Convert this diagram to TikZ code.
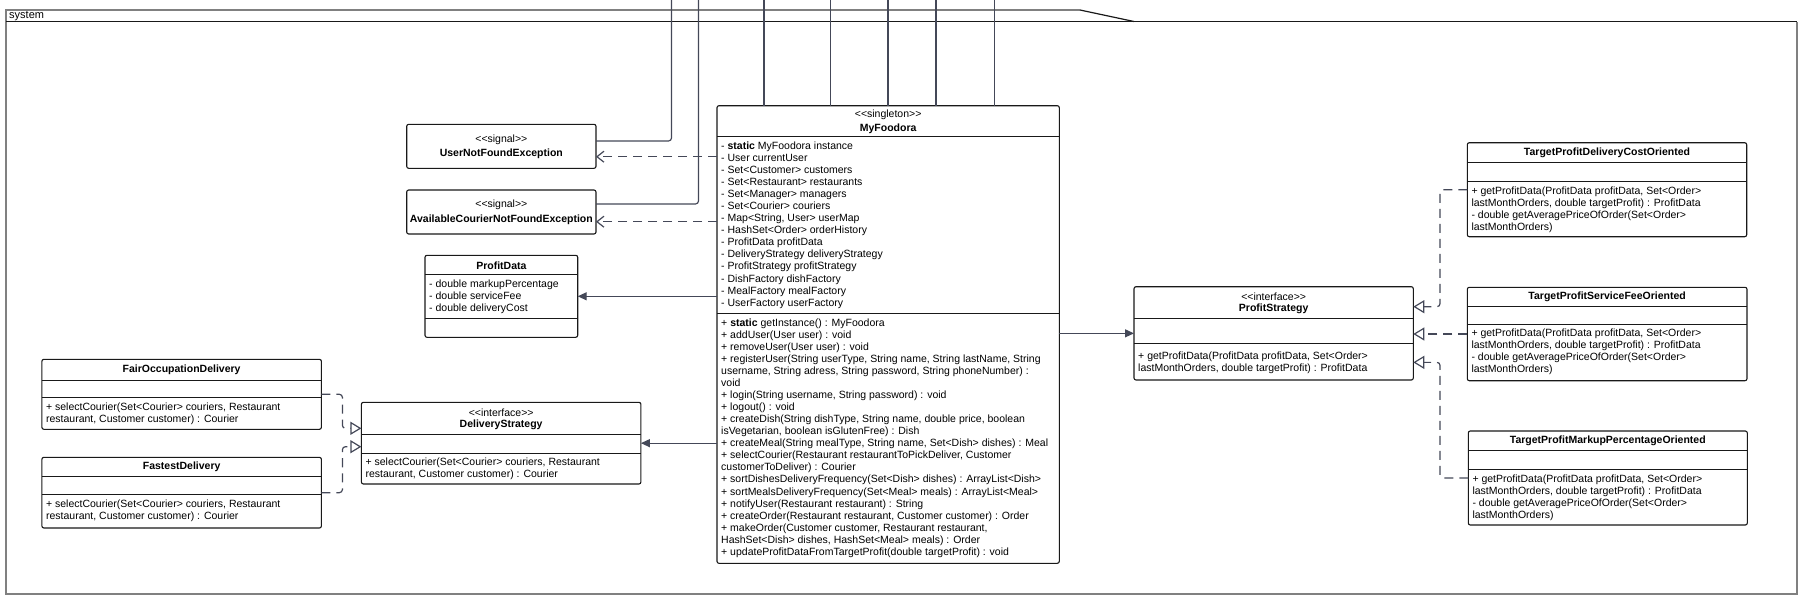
\documentclass[tikz,border=0pt]{standalone}
\usepackage{fontspec}
\setmainfont{Liberation Sans}
\usepackage{tikz}
\usetikzlibrary{arrows.meta,positioning,calc}
\definecolor{boxln}{RGB}{25,25,25}
\definecolor{linkc}{RGB}{68,72,88}
\definecolor{pkgc}{RGB}{128,128,128}
\newcommand{\umlfont}{\fontsize{10.5}{12.07}\selectfont}
\newcommand{\stlt}{<\kern0pt<}
\newcommand{\stgt}{>\kern0pt>}

\begin{document}
\begin{tikzpicture}[x=1pt, y=-1pt, font=\umlfont,
  cls/.style={rectangle, rounded corners=2pt, draw=boxln, line width=1.1pt, fill=white,
              inner sep=0pt, outer sep=0pt, anchor=north west},
  sepln/.style={draw=boxln, line width=1pt},
  stereo/.style={inner sep=0pt, font=\umlfont},
  ttl/.style={inner sep=0pt, font=\umlfont\bfseries},
  mem/.style={inner sep=0pt, align=left, anchor=west, font=\umlfont},
  conn/.style={draw=linkc, line width=1.2pt, rounded corners=3pt},
  dep/.style={conn, dash pattern=on 9pt off 6pt, -{Straight Barb[length=7pt, width=11pt]}},
  real/.style={conn, dash pattern=on 9pt off 6pt, -{Triangle[open, length=11pt, width=13pt]}},
  assoc/.style={conn, -{Triangle[length=9pt, width=8pt]}}]
  \useasboundingbox (0,0) rectangle (1816,603);

  % package frame
  \draw[pkgc, line width=2pt] (1080,10) -- (6,10) -- (6,594) -- (1797,594) -- (1797,21.5);
  \draw[boxln, line width=1.2pt] (1080,10) -- (1134,21.5);
  \draw[boxln, line width=1.2pt] (6,21.5) -- (1797,21.5);
  \node[anchor=west, inner sep=0pt, font=\fontsize{11}{12}\selectfont] (pkglbl) at (9,16) {system};

  % signals
  \node[cls, minimum width=189.3pt, minimum height=44pt] (unf) at (406.7,124.3) {};
  \node[stereo] (unf-s) at ([yshift=-15.7pt]unf.north) {\stlt signal\stgt};
  \node[ttl] (unf-t) at ([yshift=-29pt]unf.north) {UserNotFoundException};
  \node[cls, minimum width=189.3pt, minimum height=44pt] (acnf) at (406.7,190) {};
  \node[stereo] (acnf-s) at ([yshift=-15pt]acnf.north) {\stlt signal\stgt};
  \node[ttl] (acnf-t) at ([yshift=-29.3pt]acnf.north) {AvailableCourierNotFoundException};

  % profit data
  \node[cls, minimum width=152.7pt, minimum height=82pt] (pd) at (425,255.3) {};
  \node[ttl] (pd-t) at ([yshift=-10.4pt]pd.north) {ProfitData};
  \draw[sepln] ([yshift=-19pt]pd.north west) -- ([yshift=-19pt]pd.north east);
  \draw[sepln] ([yshift=-63pt]pd.north west) -- ([yshift=-63pt]pd.north east);
  \node[mem] (pd-a) at ([xshift=4pt, yshift=-41.7pt]pd.north west)
    {- double markupPercentage\\ - double serviceFee\\ - double deliveryCost};

  % main singleton
  \node[cls, minimum width=342.3pt, minimum height=457.6pt] (mf) at (717,105.7) {};
  \node[stereo] (mf-s) at ([yshift=-9.3pt]mf.north) {\stlt singleton\stgt};
  \node[ttl] (mf-t) at ([yshift=-22.6pt]mf.north) {MyFoodora};
  \draw[sepln] ([yshift=-30.3pt]mf.north west) -- ([yshift=-30.3pt]mf.north east);
  \draw[sepln] ([yshift=-207.6pt]mf.north west) -- ([yshift=-207.6pt]mf.north east);
  \node[mem] (mf-a) at ([xshift=4pt, yshift=-119.3pt]mf.north west)
    {- \textbf{static} MyFoodora instance\\
     - User currentUser\\
     - Set<Customer> customers\\
     - Set<Restaurant> restaurants\\
     - Set<Manager> managers\\
     - Set<Courier> couriers\\
     - Map<String, User> userMap\\
     - HashSet<Order> orderHistory\\
     - ProfitData profitData\\
     - DeliveryStrategy deliveryStrategy\\
     - ProfitStrategy profitStrategy\\
     - DishFactory dishFactory\\
     - MealFactory mealFactory\\
     - UserFactory userFactory};
  \node[mem] (mf-m) at ([xshift=4pt, yshift=-332.3pt]mf.north west)
    {+ \textbf{static} getInstance() : MyFoodora\\
     + addUser(User user) : void\\
     + removeUser(User user) : void\\
     + registerUser(String userType, String name, String lastName, String\\
     username, String adress, String password, String phoneNumber) :\\
     void\\
     + login(String username, String password) : void\\
     + logout() : void\\
     + createDish(String dishType, String name, double price, boolean\\
     isVegetarian, boolean isGlutenFree) : Dish\\
     + createMeal(String mealType, String name, Set<Dish> dishes) : Meal\\
     + selectCourier(Restaurant restaurantToPickDeliver, Customer\\
     customerToDeliver) : Courier\\
     + sortDishesDeliveryFrequency(Set<Dish> dishes) : ArrayList<Dish>\\
     + sortMealsDeliveryFrequency(Set<Meal> meals) : ArrayList<Meal>\\
     + notifyUser(Restaurant restaurant) : String\\
     + createOrder(Restaurant restaurant, Customer customer) : Order\\
     + makeOrder(Customer customer, Restaurant restaurant,\\
     HashSet<Dish> dishes, HashSet<Meal> meals) : Order\\
     + updateProfitDataFromTargetProfit(double targetProfit) : void};

  % delivery strategies
  \node[cls, minimum width=279.5pt, minimum height=81.7pt] (ds) at (361.4,402.3) {};
  \node[stereo] (ds-s) at ([yshift=-10pt]ds.north) {\stlt interface\stgt};
  \node[ttl] (ds-t) at ([yshift=-22.7pt]ds.north) {DeliveryStrategy};
  \draw[sepln] ([yshift=-32pt]ds.north west) -- ([yshift=-32pt]ds.north east);
  \draw[sepln] ([yshift=-51pt]ds.north west) -- ([yshift=-51pt]ds.north east);
  \node[mem] (ds-m) at ([xshift=4pt, yshift=-66.9pt]ds.north west)
    {+ selectCourier(Set<Courier> couriers, Restaurant\\ restaurant, Customer customer) : Courier};

  \node[cls, minimum width=279.5pt, minimum height=70pt] (fair) at (41.9,359.3) {};
  \node[ttl] (fair-t) at ([yshift=-10.2pt]fair.north) {FairOccupationDelivery};
  \draw[sepln] ([yshift=-20.7pt]fair.north west) -- ([yshift=-20.7pt]fair.north east);
  \draw[sepln] ([yshift=-38.4pt]fair.north west) -- ([yshift=-38.4pt]fair.north east);
  \node[mem] (fair-m) at ([xshift=4pt, yshift=-54.2pt]fair.north west)
    {+ selectCourier(Set<Courier> couriers, Restaurant\\ restaurant, Customer customer) : Courier};

  \node[cls, minimum width=279.5pt, minimum height=70.7pt] (fast) at (41.9,457.3) {};
  \node[ttl] (fast-t) at ([yshift=-9.7pt]fast.north) {FastestDelivery};
  \draw[sepln] ([yshift=-19.4pt]fast.north west) -- ([yshift=-19.4pt]fast.north east);
  \draw[sepln] ([yshift=-36.7pt]fast.north west) -- ([yshift=-36.7pt]fast.north east);
  \node[mem] (fast-m) at ([xshift=4pt, yshift=-53.7pt]fast.north west)
    {+ selectCourier(Set<Courier> couriers, Restaurant\\ restaurant, Customer customer) : Courier};

  % profit strategies
  \node[cls, minimum width=279.3pt, minimum height=93.3pt] (ps) at (1134,286.7) {};
  \node[stereo] (ps-s) at ([yshift=-10pt]ps.north) {\stlt interface\stgt};
  \node[ttl] (ps-t) at ([yshift=-22.3pt]ps.north) {ProfitStrategy};
  \draw[sepln] ([yshift=-31.6pt]ps.north west) -- ([yshift=-31.6pt]ps.north east);
  \draw[sepln] ([yshift=-56.6pt]ps.north west) -- ([yshift=-56.6pt]ps.north east);
  \node[mem] (ps-m) at ([xshift=4pt, yshift=-76.5pt]ps.north west)
    {+ getProfitData(ProfitData profitData, Set<Order>\\ lastMonthOrders, double targetProfit) : ProfitData};

  \node[cls, minimum width=279.4pt, minimum height=94pt] (tpdc) at (1467.3,142.7) {};
  \node[ttl] (tpdc-t) at ([yshift=-10.6pt]tpdc.north) {TargetProfitDeliveryCostOriented};
  \draw[sepln] ([yshift=-19.6pt]tpdc.north west) -- ([yshift=-19.6pt]tpdc.north east);
  \draw[sepln] ([yshift=-39pt]tpdc.north west) -- ([yshift=-39pt]tpdc.north east);
  \node[mem] (tpdc-m) at ([xshift=4pt, yshift=-67.2pt]tpdc.north west)
    {+ getProfitData(ProfitData profitData, Set<Order>\\ lastMonthOrders, double targetProfit) : ProfitData\\
     - double getAveragePriceOfOrder(Set<Order>\\ lastMonthOrders)};

  \node[cls, minimum width=279.7pt, minimum height=93.4pt] (tpsf) at (1467.3,287.3) {};
  \node[ttl] (tpsf-t) at ([yshift=-9.4pt]tpsf.north) {TargetProfitServiceFeeOriented};
  \draw[sepln] ([yshift=-19.4pt]tpsf.north west) -- ([yshift=-19.4pt]tpsf.north east);
  \draw[sepln] ([yshift=-36.7pt]tpsf.north west) -- ([yshift=-36.7pt]tpsf.north east);
  \node[mem] (tpsf-m) at ([xshift=4pt, yshift=-64.7pt]tpsf.north west)
    {+ getProfitData(ProfitData profitData, Set<Order>\\ lastMonthOrders, double targetProfit) : ProfitData\\
     - double getAveragePriceOfOrder(Set<Order>\\ lastMonthOrders)};

  \node[cls, minimum width=279pt, minimum height=94pt] (tpmp) at (1468.3,431) {};
  \node[ttl] (tpmp-t) at ([yshift=-9.7pt]tpmp.north) {TargetProfitMarkupPercentageOriented};
  \draw[sepln] ([yshift=-19pt]tpmp.north west) -- ([yshift=-19pt]tpmp.north east);
  \draw[sepln] ([yshift=-38.3pt]tpmp.north west) -- ([yshift=-38.3pt]tpmp.north east);
  \node[mem] (tpmp-m) at ([xshift=4pt, yshift=-66.4pt]tpmp.north west)
    {+ getProfitData(ProfitData profitData, Set<Order>\\ lastMonthOrders, double targetProfit) : ProfitData\\
     - double getAveragePriceOfOrder(Set<Order>\\ lastMonthOrders)};

  % lines coming in from outside
  \coordinate (ext1) at (671.5,0);
  \coordinate (ext2) at (698.5,0);
  \coordinate (ext3) at (764,0);
  \coordinate (ext4) at (830.3,0);
  \coordinate (ext5) at (888,0);
  \coordinate (ext6) at (936,0);
  \coordinate (ext7) at (994.3,0);
  \draw[conn] (ext1) |- ([yshift=5.3pt]unf.east);
  \draw[conn] (ext2) |- ([yshift=8pt]acnf.east);
  \draw[conn] (ext3) -- (ext3 |- mf.north);
  \draw[conn] (ext4) -- (ext4 |- mf.north);
  \draw[conn] (ext5) -- (ext5 |- mf.north);
  \draw[conn] (ext6) -- (ext6 |- mf.north);
  \draw[conn] (ext7) -- (ext7 |- mf.north);

  % dependencies and associations
  \coordinate (unfd) at ([yshift=-10.4pt]unf.east);
  \coordinate (acnfd) at ([yshift=-9.7pt]acnf.east);
  \draw[dep] (mf.west |- unfd) -- (unfd);
  \draw[dep] (mf.west |- acnfd) -- (acnfd);
  \draw[assoc] (mf.west |- pd.east) -- (pd.east);
  \draw[assoc] (mf.west |- ds.east) -- (ds.east);
  \draw[assoc] (mf.east |- ps.west) -- (ps.west);

  % realizations
  \coordinate (dsa) at ([yshift=14.85pt]ds.west);
  \coordinate (dsb) at ([yshift=-3.55pt]ds.west);
  \draw[real] (fair.east) -- ++(21,0) |- (dsa);
  \draw[real] (fast.east) -- ++(21,0) |- (dsb);
  \coordinate (psa) at ([yshift=26.65pt]ps.east);
  \coordinate (psb) at ([yshift=-29pt]ps.east);
  \draw[real] (tpdc.west) -- ++(-27.3,0) |- (psa);
  \draw[real] (tpsf.west) -- (tpsf.west -| ps.east);
  \draw[real] (tpmp.west) -- ++(-28.3,0) |- (psb);
\end{tikzpicture}
\end{document}
